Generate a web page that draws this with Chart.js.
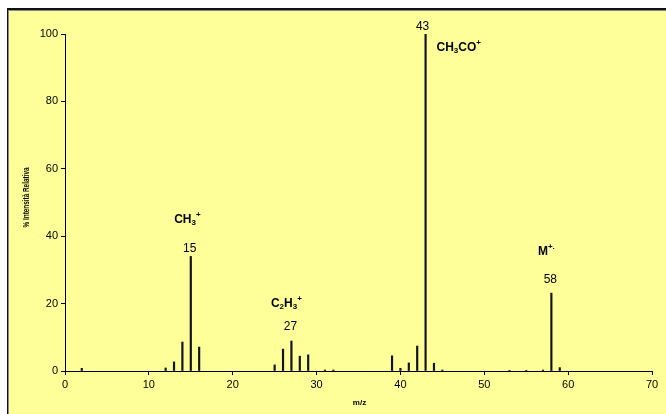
<!DOCTYPE html>
<html>
<head>
<meta charset="utf-8">
<script src="https://cdn.jsdelivr.net/npm/chart.js@4.4.1/dist/chart.umd.min.js"></script>
<style>
	html, body { margin: 0; padding: 0; background: #fff; }
	body { width: 666px; height: 414px; position: relative; overflow: hidden; }
	.frame {
		position: absolute; left: 7px; top: 8px; width: 720px; height: 480px;
		background: #ffff99;
		border-left: 1px solid #111; border-top: 2px solid #111;
		box-shadow: inset 1px 1px 0 #888;
	}
	#chart { position: absolute; left: 0; top: 0; }
</style>
</head>
<body>
<div class="frame"></div>
<canvas id="chart" width="666" height="414"></canvas>
<script>
// ─── Data ───────────────────────────────────────
const mz = [2, 12, 13, 14, 15, 16, 25, 26, 27, 28, 29, 31, 32, 39, 40, 41, 42, 43, 44, 45, 53, 55, 57, 58, 59];
const intensity = [0.8, 0.9, 2.7, 8.6, 34, 7.1, 1.8, 6.5, 8.9, 4.4, 4.8, 0.3, 0.3, 4.5, 0.8, 2.4, 7.4, 100, 2.3, 0.3, 0.2, 0.2, 0.3, 23.1, 1];

const xTicks = [0, 10, 20, 30, 40, 50, 60, 70];
const yTicks = [0, 20, 40, 60, 80, 100];

const xTitle = "m/z";
const yTitle = "% Intensità Relativa";

// peak numbers: [m/z, label, y in data units]
const peakLabels = [
	[15, "15", 36.4],
	[27, "27", 13.1],
	[43, "43", 101.5],
	[58, "58", 27],
];

// ion formulas: parts [text, "n"|"sub"|"sup"], anchored at data x/y
const ionLabels = [
	{ x: 14.6, y: 44.8, align: "center", parts: [["CH", "n"], ["3", "sub"], ["+", "sup"]] },
	{ x: 26.4, y: 20, align: "center", parts: [["C", "n"], ["2", "sub"], ["H", "n"], ["3", "sub"], ["+", "sup"]] },
	{ x: 44.3, y: 95.8, align: "left", parts: [["CH", "n"], ["3", "sub"], ["CO", "n"], ["+", "sup"]] },
	{ x: 57.4, y: 35.4, align: "center", parts: [["M", "n"], ["+.", "sup"]] },
];

// ─── Helpers ────────────────────────────────────
const FONT = "'Liberation Sans', Arial, sans-serif";

function drawRich(ctx, parts, x, y, align) {
	const fontFor = (k) => (k === "n" ? `bold 12px ${FONT}` : `bold 8px ${FONT}`);
	let w = 0;
	parts.forEach(([t, k]) => { ctx.font = fontFor(k); w += ctx.measureText(t).width; });
	let cx = align === "center" ? x - w / 2 : x;
	ctx.textBaseline = "middle";
	ctx.textAlign = "left";
	parts.forEach(([t, k]) => {
		ctx.font = fontFor(k);
		const dy = k === "sub" ? 3 : k === "sup" ? -5 : 0;
		ctx.fillText(t, cx, y + dy);
		cx += ctx.measureText(t).width;
	});
}

const annotations = {
	id: "annotations",
	afterDraw(chart) {
		const { ctx, scales: { x, y } } = chart;
		ctx.save();
		ctx.fillStyle = "#000";

		// numeric peak labels
		ctx.font = `12px ${FONT}`;
		ctx.textAlign = "center";
		ctx.textBaseline = "middle";
		peakLabels.forEach(([m, t, v]) => {
			const px = m === 43 ? x.getPixelForValue(m) - 3 : x.getPixelForValue(m) - 1;
			const py = v > 100 ? y.getPixelForValue(100) - 7 : y.getPixelForValue(v);
			ctx.fillText(t, px, py);
		});

		ionLabels.forEach((a) => drawRich(ctx, a.parts, x.getPixelForValue(a.x), y.getPixelForValue(a.y), a.align));

		// axis titles
		ctx.font = `bold 8px ${FONT}`;
		ctx.textAlign = "center";
		ctx.textBaseline = "middle";
		ctx.fillText(xTitle, (x.left + x.right) / 2 + 1, 403);

		ctx.font = `bold 9px ${FONT}`;
		ctx.translate(27, (y.top + y.bottom) / 2 - 5);
		ctx.rotate(-Math.PI / 2);
		const w = ctx.measureText(yTitle).width;
		ctx.scale(60 / w, 1);
		ctx.fillText(yTitle, 0, 0);
		ctx.restore();
	},
};

// ─── Chart ──────────────────────────────────────
new Chart(document.getElementById("chart").getContext("2d"), {
	type: "bar",
	data: {
		datasets: [
			{
				data: mz.map((m, i) => ({ x: m, y: intensity[i] })),
				backgroundColor: "#111",
				borderWidth: 0,
				barThickness: 1.5,
			},
		],
	},
	options: {
		responsive: false,
		animation: false,
		layout: { padding: { left: 0, right: 14, top: 34, bottom: 0 } },
		plugins: { legend: { display: false }, tooltip: { enabled: false } },
		scales: {
			x: {
				type: "linear",
				min: 0,
				max: 70,
				offset: false,
				afterFit: (s) => { s.height = 43; },
				afterBuildTicks: (s) => { s.ticks = xTicks.map((v) => ({ value: v })); },
				ticks: { color: "#000", font: { family: FONT, size: 11 }, padding: 3, maxRotation: 0 },
				grid: { offset: false, drawOnChartArea: false, drawTicks: true, tickLength: 4, color: "#000" },
				border: { display: true, color: "#000", width: 1 },
			},
			y: {
				min: 0,
				max: 100,
				afterFit: (s) => { s.width = 65; },
				afterBuildTicks: (s) => { s.ticks = yTicks.map((v) => ({ value: v })); },
				ticks: { color: "#000", font: { family: FONT, size: 11 }, padding: 3 },
				grid: { drawOnChartArea: false, drawTicks: true, tickLength: 4, color: "#000" },
				border: { display: true, color: "#000", width: 1 },
			},
		},
	},
	plugins: [annotations],
});
</script>
</body>
</html>
